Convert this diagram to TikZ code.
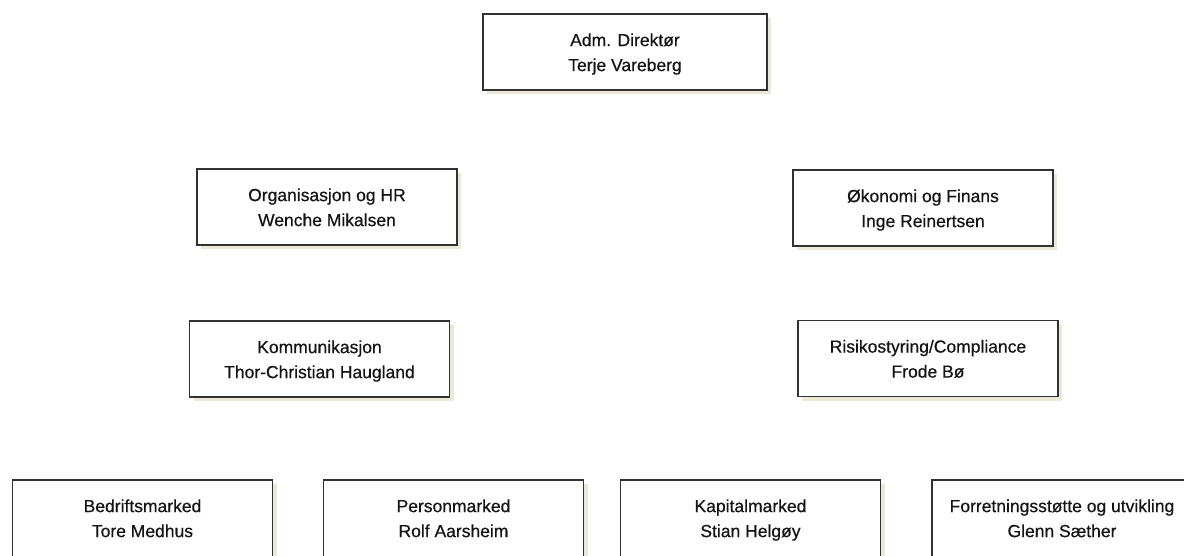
\documentclass[tikz,border=0pt]{standalone}
\usepackage{fontspec}
\setmainfont{Liberation Sans}
\newfontfamily\boxfont[BoldFont={Liberation Sans}, BoldFeatures={FakeBold=0.5}]{Liberation Sans}
\usetikzlibrary{shadows}
\definecolor{boxline}{RGB}{50,50,50}
\definecolor{boxshade}{RGB}{234,233,216}
\definecolor{boxtext}{RGB}{20,20,20}
\tikzset{
  unitbox/.style={draw=boxline, line width=1.4pt, fill=white,
    minimum width=260pt, minimum height=76pt, inner sep=0pt,
    drop shadow={shadow xshift=4pt, shadow yshift=-4pt, fill=boxshade, opacity=1}},
  unittext/.style={align=center, text=boxtext, inner sep=0pt, yshift=-4pt,
    font=\boxfont\bfseries\fontsize{17.5}{25}\selectfont,
    execute at begin node=\strut, execute at end node=\strut},
}
\begin{document}
\begin{tikzpicture}[x=1pt,y=-1pt]
  \clip (0,0) rectangle (1184,555);
  \fill[white] (0,0) rectangle (1184,555);
  % top management
  \node[unitbox, minimum width=284pt] (ceo) at (625,52) {};
  \node[unittext] (ceo-t) at (ceo) {Adm. Direktør\\Terje Vareberg};
  % staff functions
  \node[unitbox] (hr)   at (327,207)   {};
  \node[unittext] (hr-t) at (hr) {Organisasjon og HR\\Wenche Mikalsen};
  \node[unitbox] (fin)  at (923,208)   {};
  \node[unittext] (fin-t) at (fin) {Økonomi og Finans\\Inge Reinertsen};
  \node[unitbox] (comm) at (319.5,359) {};
  \node[unittext] (comm-t) at (comm) {Kommunikasjon\\Thor-Christian Haugland};
  \node[unitbox] (risk) at (928,358.5) {};
  \node[unittext] (risk-t) at (risk) {Risikostyring/Compliance\\Frode Bø};
  % business areas
  \node[unitbox, minimum height=78pt] (bm) at (142.5,519) {};
  \node[unittext] (bm-t) at (142.5,518) {Bedriftsmarked\\Tore Medhus};
  \node[unitbox, minimum height=78pt] (pm) at (453.5,519) {};
  \node[unittext] (pm-t) at (453.5,518) {Personmarked\\Rolf Aarsheim};
  \node[unitbox, minimum height=78pt] (km) at (750.5,519) {};
  \node[unittext] (km-t) at (750.5,518) {Kapitalmarked\\Stian Helgøy};
  \node[unitbox, minimum height=78pt] (fs) at (1062,519) {};
  \node[unittext] (fs-t) at (1062,518) {Forretningsstøtte og utvikling\\Glenn Sæther};
\end{tikzpicture}
\end{document}
